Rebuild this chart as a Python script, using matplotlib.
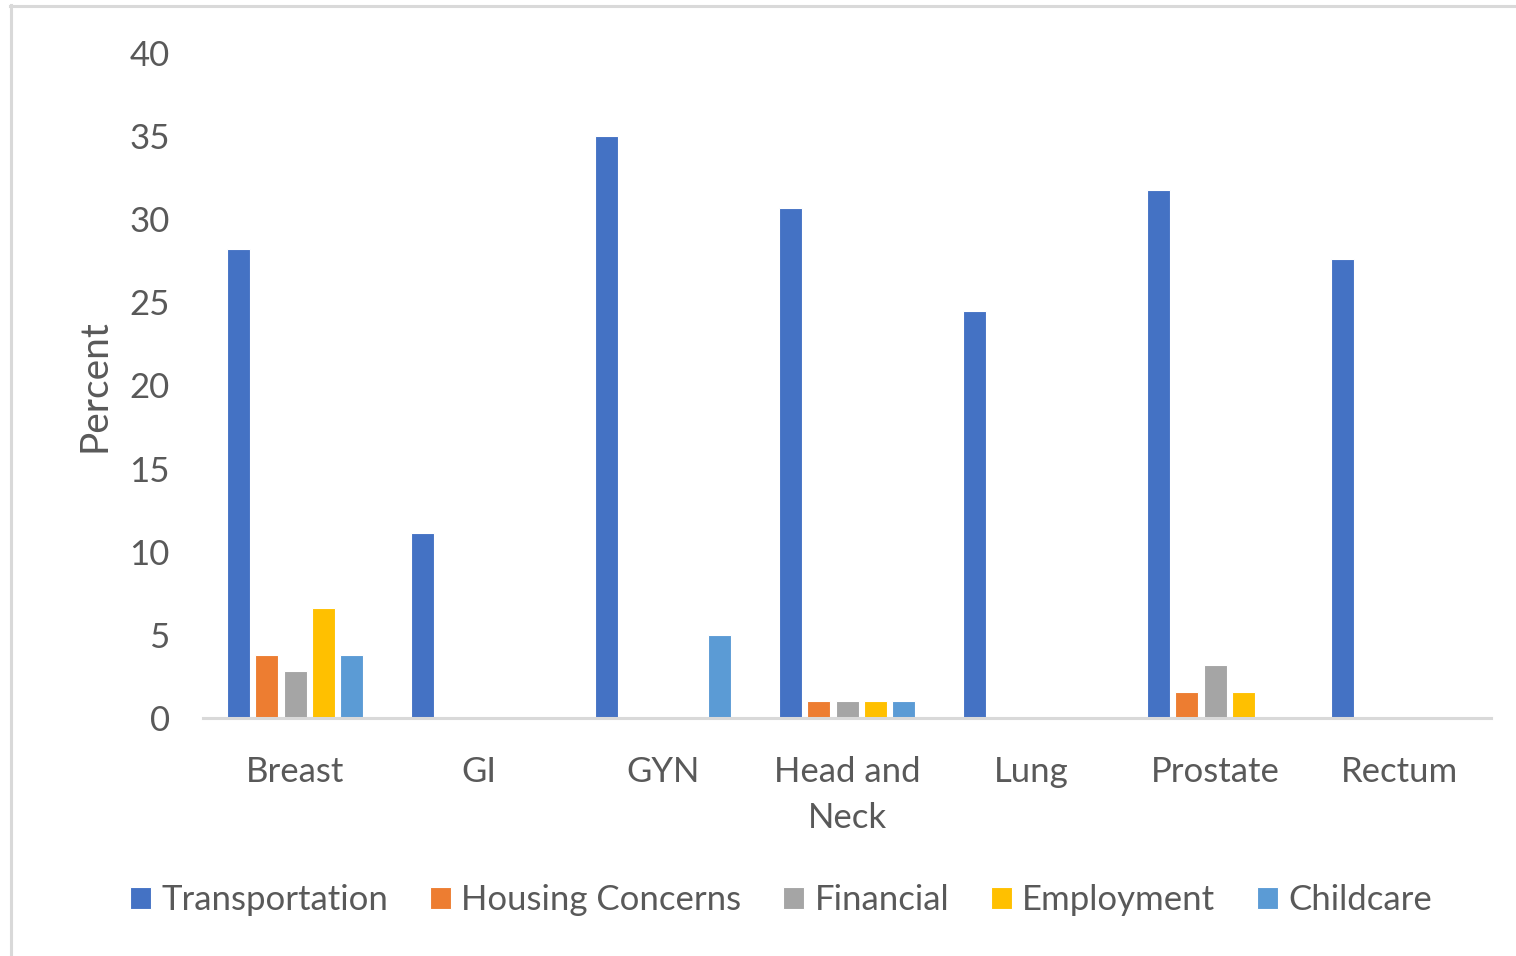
import numpy as np
import matplotlib.pyplot as plt
from matplotlib.lines import Line2D

categories = ['Breast', 'GI', 'GYN', 'Head and\nNeck', 'Lung', 'Prostate', 'Rectum']
transportation = [28.2, 11.1, 35.0, 30.7, 24.5, 31.75, 27.6]
housing = [3.8, 0, 0, 1.0, 0, 1.59, 0]
financial = [2.8, 0, 0, 1.0, 0, 3.17, 0]
employment = [6.6, 0, 0, 1.0, 0, 1.59, 0]
childcare = [3.8, 0, 5.0, 1.0, 0, 0, 0]

series = [
    ('Transportation', transportation, '#4472C4'),
    ('Housing Concerns', housing, '#ED7D31'),
    ('Financial', financial, '#A5A5A5'),
    ('Employment', employment, '#FFC000'),
    ('Childcare', childcare, '#5B9BD5'),
]

textColor = '#595959'
fontSize = 25
plt.rcParams['font.family'] = ['Lato', 'DejaVu Sans']

W, H = 1516, 956
fig = plt.figure(figsize=(W / 100, H / 100), dpi=100)
ax = fig.add_axes([203 / W, 1 - 718 / H, (1491 - 203) / W, (718 - 53) / H])

x = np.arange(len(categories))
step = 0.154
width = 0.125
for i, (name, vals, color) in enumerate(series):
    ax.bar(x + (i - 2) * step, vals, width, color=color, label=name,
           edgecolor='white', linewidth=0.8, zorder=2)

ax.set_xlim(-0.5, len(categories) - 0.5)
ax.set_ylim(0, 40)
ax.set_yticks(range(0, 41, 5))
ax.set_xticks(x)
ax.set_xticklabels(categories, linespacing=1.55)

for side in ['top', 'right', 'left']:
    ax.spines[side].set_visible(False)
ax.spines['bottom'].set_color('#D9D9D9')
ax.spines['bottom'].set_linewidth(2.2)
ax.spines['bottom'].set_zorder(3)

ax.tick_params(axis='both', length=0, labelsize=fontSize, colors=textColor)
ax.tick_params(axis='y', pad=24)
ax.tick_params(axis='x', pad=27)
ax.set_ylabel('Percent', fontsize=28, color=textColor, labelpad=12)

ax.legend(loc='center', bbox_to_anchor=(781 / W, 1 - 900 / H), bbox_transform=fig.transFigure,
          ncol=5, frameon=False, fontsize=fontSize, labelcolor=textColor,
          handlelength=0.6, handleheight=0.6, handletextpad=0.3, columnspacing=1.2)

# cropped chart-area border
fig.add_artist(Line2D([11 / W, 11 / W], [0, 1 - 5 / H], color='#D9D9D9', lw=2.2))
fig.add_artist(Line2D([10 / W, 1], [1 - 6 / H, 1 - 6 / H], color='#D9D9D9', lw=2.2))

plt.savefig('out.png', dpi=100)
